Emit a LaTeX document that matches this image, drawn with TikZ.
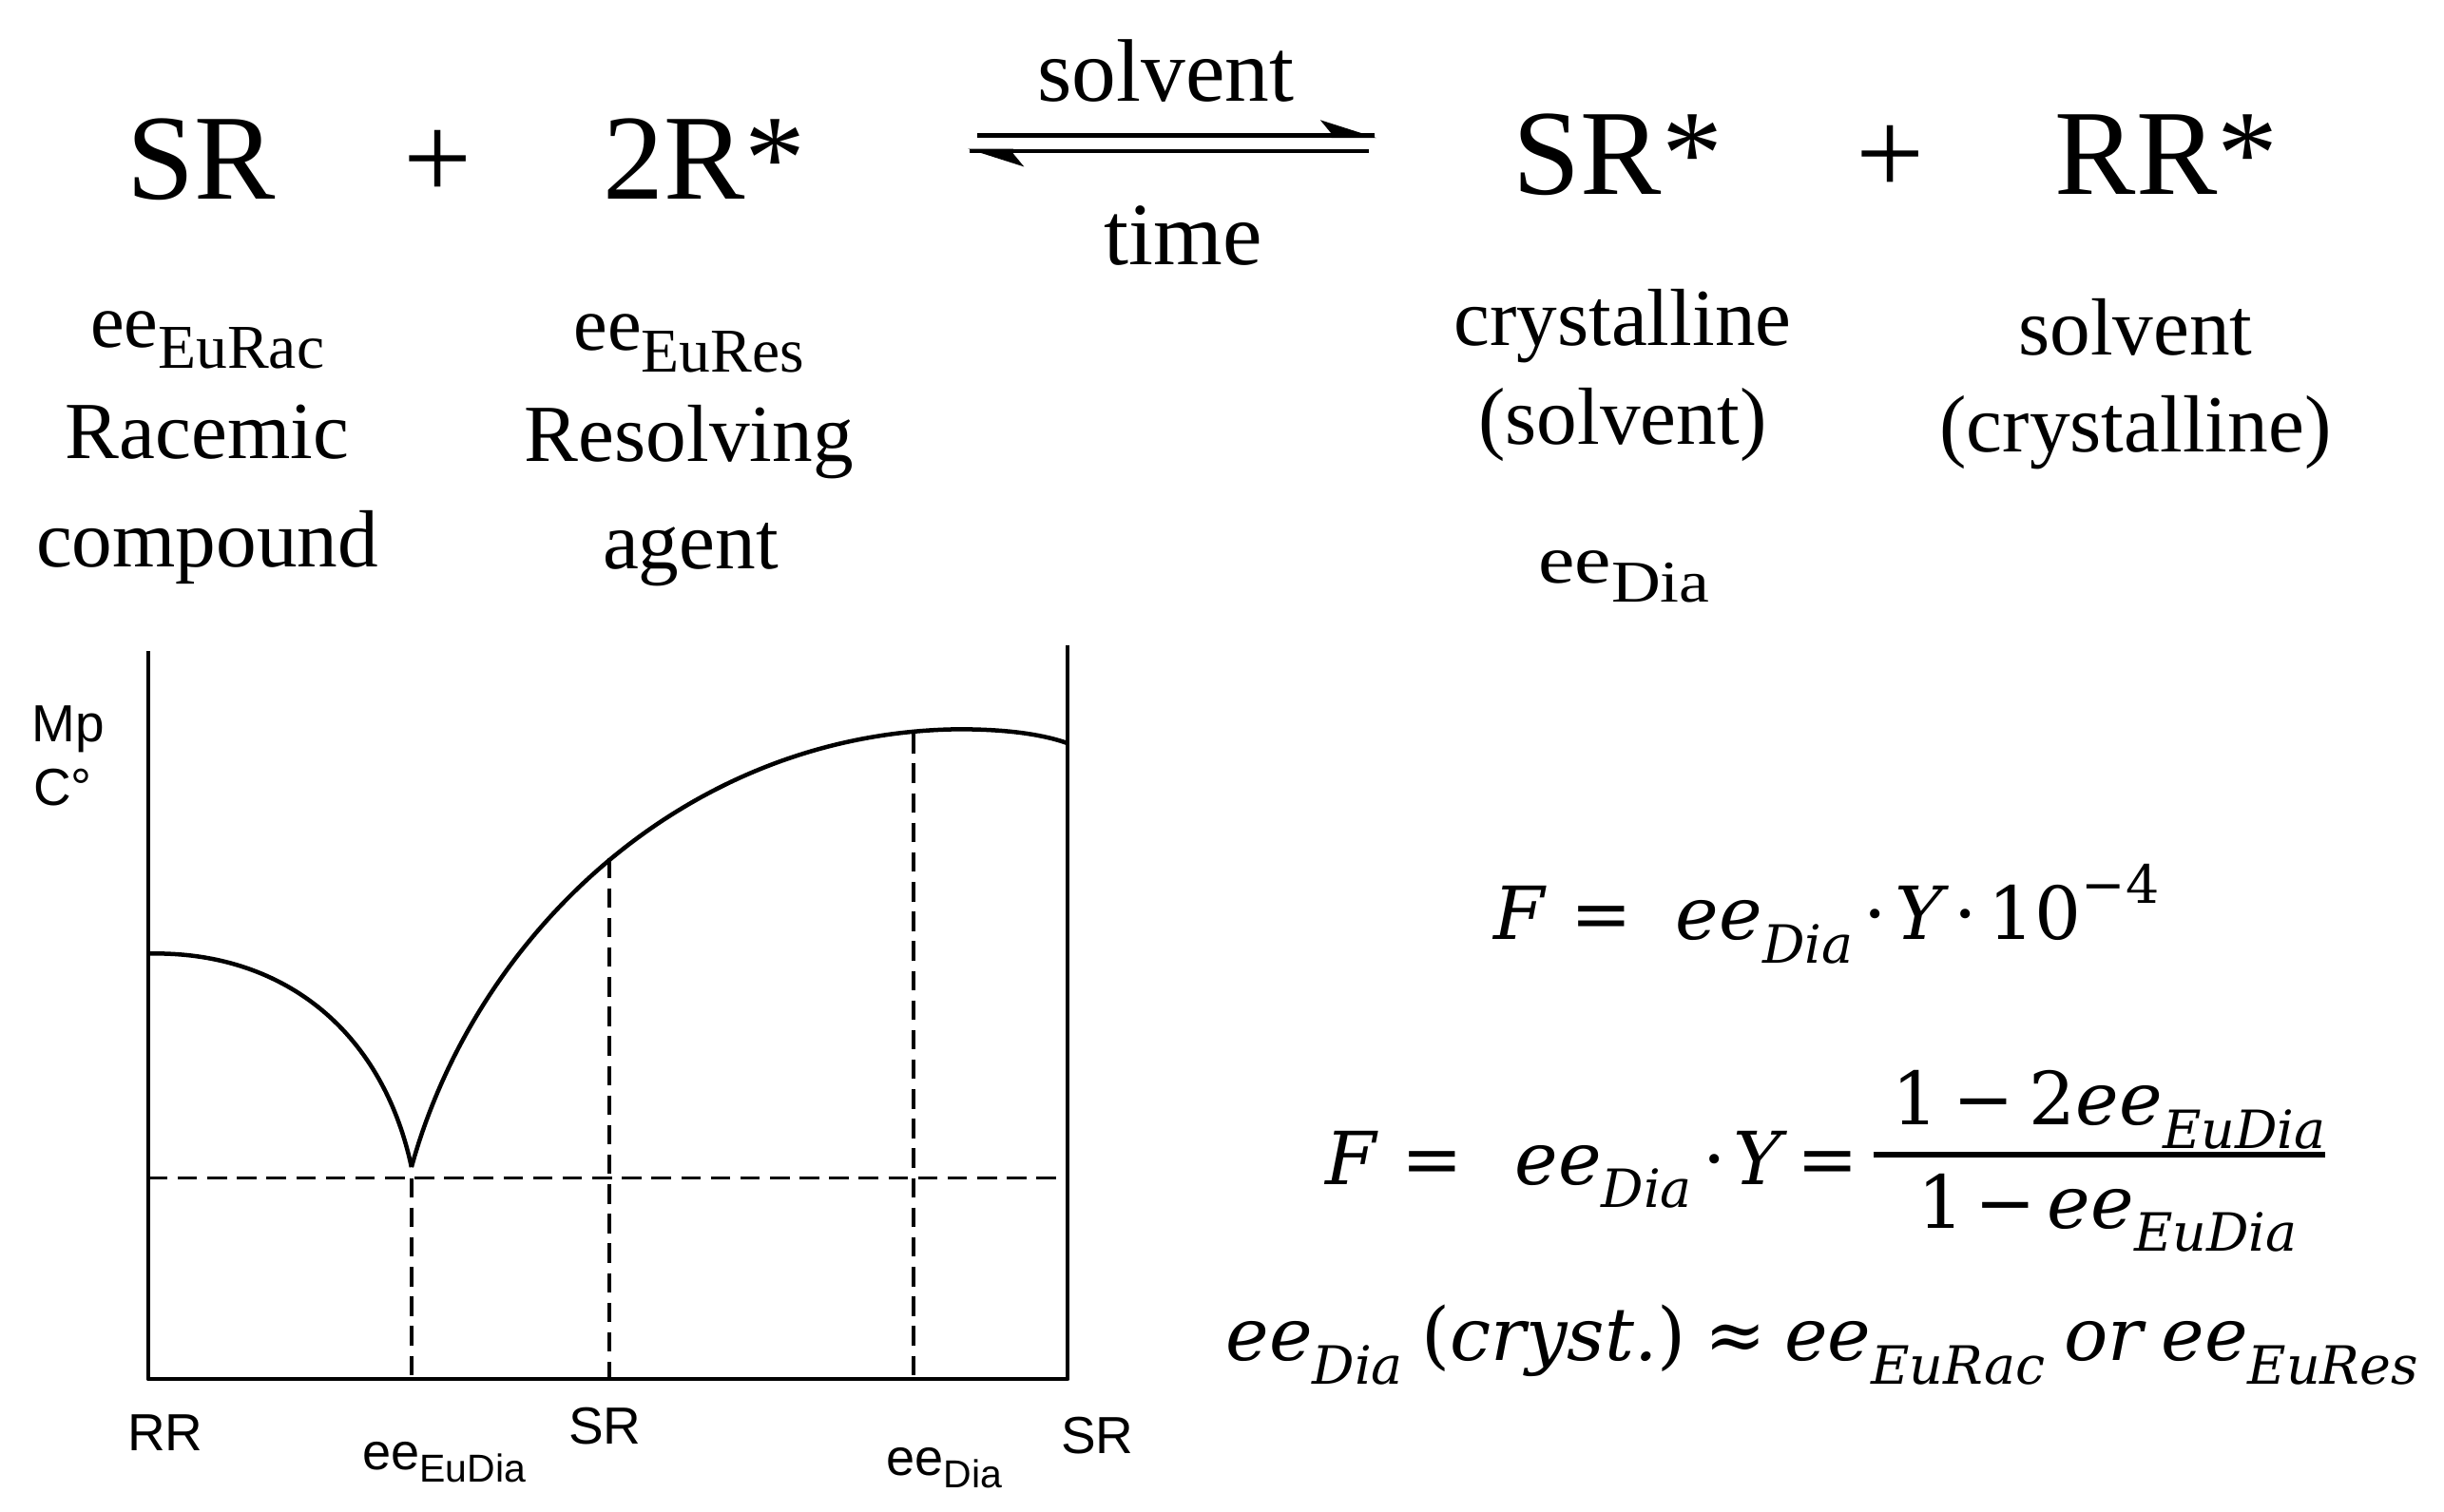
\documentclass[tikz,border=0pt]{standalone}
\usepackage{fontspec}
\usepackage{graphicx}
\setmainfont{Liberation Serif}
\newfontfamily\arialf{Liberation Sans}
\newfontfamily\fmf{DejaVu Serif}
\newcommand\fsz[1]{\fontsize{#1}{#1}\selectfont}
\newcommand\sublo[1]{\raisebox{-0.32em}{\scalebox{0.72}{#1}}}
\newcommand\suphi[1]{\raisebox{0.5em}{\scalebox{0.72}{#1}}}
% ee with subscript, Times: #1 ee size, #2 sub size, #3 text, #4 ee xscale, #5 sub xscale, #6 drop
\newcommand\tsub[6]{\scalebox{#4}[1]{\fsz{#1}ee}\raisebox{-#6}{\scalebox{#5}[1]{\fsz{#2}#3}}}
\newcommand\asub[2]{{\fsz{13.2pt}ee\raisebox{-3.2pt}{\fsz{#1}#2}}}
\begin{document}
\begin{tikzpicture}[x=0.4pt,y=-0.4pt,
  big/.style={anchor=base, inner sep=0pt, font=\fsz{31.2pt}},
  mid/.style={anchor=base, inner sep=0pt, font=\fsz{20.8pt}},
  arl/.style={anchor=base, inner sep=0pt, font=\fsz{22.8pt}},
  lab/.style={anchor=base, inner sep=0pt, font=\arialf\fsz{13.4pt}},
  fm/.style={inner sep=0pt, font=\fmf\fsz{18.8pt}},
  ln/.style={line width=1.1pt, line join=round},
  dsh/.style={line width=0.9pt, dash pattern=on 5pt off 2.6pt},
  arr/.style={line width=1.2pt}]
\path[fill=white,use as bounding box] (0,0) rectangle (1568,970);

% --- reaction row
\node[big] (sr) at (129,128) {SR};
\node[big] (p1) at (281,128) {+};
\node[big] (rstar) at (452,128) {2R*};
\node[big] (srstar) at (1038,125) {SR*};
\node[big] (p2) at (1213,125) {+};
\node[big] (rrstar) at (1390,125) {RR*};

\node[arl] (solv) at (748,65) {solvent};
\node[arl] (time) at (759,170) {time};

\coordinate (a1s) at (627,87);
\coordinate (a1e) at (882,87);
\coordinate (a2s) at (622,97);
\coordinate (a2e) at (878,97);
\draw[arr] (a1s) -- (a1e);
\fill ([shift={(1,1.5)}]a1e) -- ([shift={(-35,-10)}]a1e) -- ([shift={(-28,-1.5)}]a1e) -- ([shift={(-28,1.5)}]a1e) -- cycle;
\draw[arr] (a2s) -- (a2e);
\fill ([shift={(-1,-1.5)}]a2s) -- ([shift={(35,10)}]a2s) -- ([shift={(28,1.5)}]a2s) -- ([shift={(28,-1.5)}]a2s) -- cycle;

% --- descriptions
\node[anchor=base, inner sep=0pt] (eerac) at (133,223) {\tsub{19.6pt}{16pt}{EuRac}{1}{1}{5.4pt}};
\node[mid] (racemic) at (133,294) {Racemic};
\node[mid] (compound) at (133,364) {compound};
\node[anchor=base, inner sep=0pt] (eeres) at (442,225) {\tsub{19.6pt}{16pt}{EuRes}{1}{1}{5.4pt}};
\node[mid] (resolving) at (442,296) {Resolving};
\node[mid] (agent) at (443,365) {agent};

\node[mid] (cryst) at (1041,222) {crystalline};
\node[mid] (solvp) at (1041,285) {(solvent)};
\node[anchor=base, inner sep=0pt] (eedia) at (1042,374) {\tsub{17.6pt}{15.2pt}{Dia}{1.2}{1.15}{5pt}};
\node[mid] (solvr) at (1370,228) {solvent};
\node[mid] (crystp) at (1370,290) {(crystalline)};

% --- phase diagram
\coordinate (tl) at (95,418);
\coordinate (bl) at (95,885);
\coordinate (br) at (685,885);
\coordinate (tr) at (685,414);
\coordinate (lstart) at (95,612);
\coordinate (cusp) at (264,749);
\coordinate (top) at (615,468);
\coordinate (rend) at (685,477);
\draw[ln] (tl) -- (bl) -- (br) -- (tr);
\draw[ln] (lstart) .. controls (180,610) and (245,660) .. (cusp);
\draw[ln] (cusp) .. controls (305,600) and (440,470) .. (top) .. controls (645,468) and (668,471) .. (rend);

\coordinate (hl) at (95,756);
\coordinate (hr) at (680,756);
\coordinate (v1t) at (264,756);
\coordinate (v1b) at (264,885);
\coordinate (v2t) at (391,551);
\coordinate (v2b) at (391,885);
\coordinate (v3t) at (586,471);
\coordinate (v3b) at (586,885);
\draw[dsh] (hl) -- (hr);
\draw[dsh] (v1t) -- (v1b);
\draw[dsh] (v2t) -- (v2b);
\draw[dsh] (v3t) -- (v3b);

\node[lab] (mp) at (44,476) {Mp};
\node[lab, anchor=base west] (cdeg) at (21,517) {C°};
\node[lab] (rr) at (106,931) {RR};
\node[anchor=base, inner sep=0pt, font=\arialf] (eeeudia) at (285,943) {\asub{10pt}{EuDia}};
\node[lab] (srm) at (388,927) {SR};
\node[anchor=base, inner sep=0pt, font=\arialf] (eedial) at (606,947) {\asub{10pt}{Dia}};
\node[lab] (srr) at (704,933) {SR};

% --- formulas
\node[fm, anchor=base west] (f1) at (958,603) {\itshape F\upshape\hspace{0.35em}=\hspace{0.6em}\itshape ee\sublo{Dia}\upshape\hspace{0.15em}·\hspace{0.1em}\itshape Y\upshape\hspace{0.15em}·\hspace{0.15em}10\suphi{−4}};

\node[fm, anchor=base west] (f2) at (850,760) {\itshape F\upshape\hspace{0.35em}=\hspace{0.7em}\itshape ee\sublo{Dia}\upshape\hspace{0.15em}·\hspace{0.1em}\itshape Y\upshape\hspace{0.2em}=};
\node[fm, anchor=base] (f2n) at (1353,722) {1\hspace{0.2em}−\hspace{0.2em}2\itshape ee\sublo{EuDia}};
\node[fm, anchor=base] (f2d) at (1352,788) {1\hspace{0.15em}−\hspace{0.15em}\itshape ee\sublo{EuDia}};
\coordinate (barl) at (1202,741);
\coordinate (barr) at (1492,741);
\draw[line width=1.3pt] (barl) -- (barr);

\node[fm, anchor=base] (f3) at (1169,873) {\itshape ee\sublo{Dia}\upshape\hspace{0.25em}(\itshape cryst.\upshape)\hspace{0.25em}≈\hspace{0.25em}\itshape ee\sublo{EuRac}\hspace{0.25em}or\hspace{0.25em}ee\sublo{EuRes}};
\end{tikzpicture}
\end{document}
